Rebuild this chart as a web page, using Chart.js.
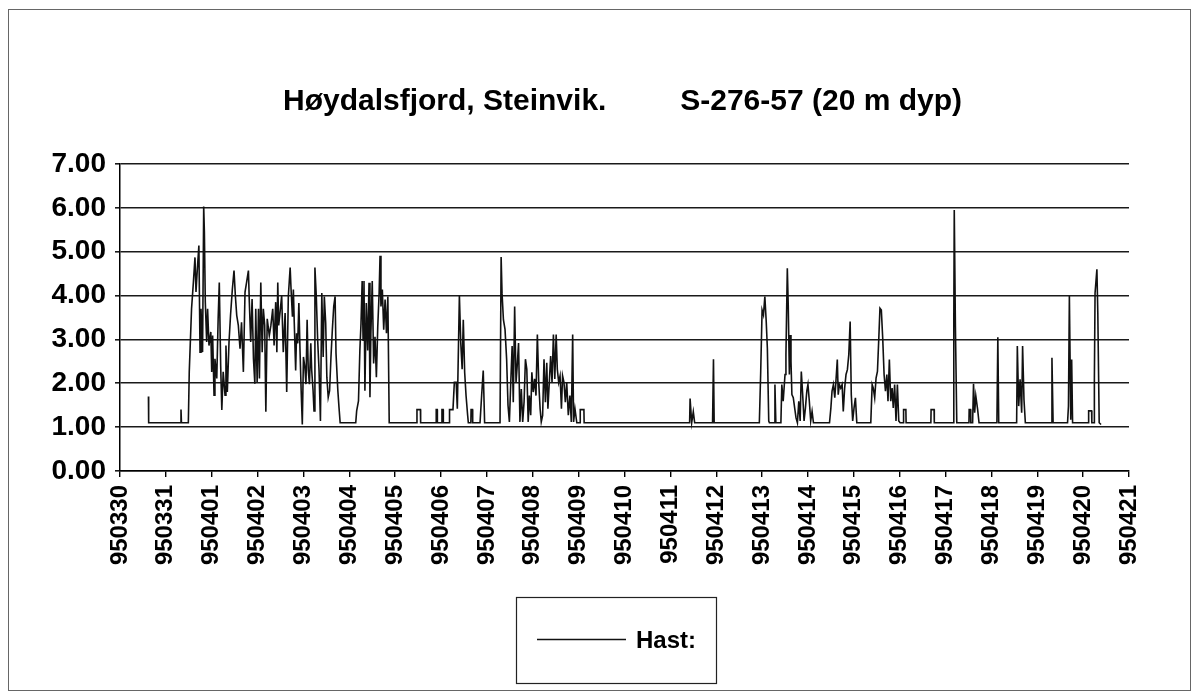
<!DOCTYPE html>
<html>
<head>
<meta charset="utf-8">
<script src="https://cdn.jsdelivr.net/npm/chart.js@4/dist/chart.umd.min.js"></script>
<style>
  html, body { margin: 0; padding: 0; background: #fff; }
  #wrap { position: relative; width: 1197px; height: 699px; }
</style>
</head>
<body>
<div id="wrap"><canvas id="hastChart" width="1197" height="699"></canvas></div>
<script>
// --- Data ---
const titleLeft = 'Høydalsfjord, Steinvik.';
const titleRight = 'S-276-57 (20 m dyp)';
const seriesName = 'Hast:';

const dayLabels = ['950330', '950331', '950401', '950402', '950403', '950404', '950405', '950406',
  '950407', '950408', '950409', '950410', '950411', '950412', '950413', '950414', '950415',
  '950416', '950417', '950418', '950419', '950420', '950421'];

const yTicks = [0, 1, 2, 3, 4, 5, 6, 7];

// time in days after 950330 00:00
const hastDays = [
  0.620, 0.625, 1.320, 1.330, 1.340, 1.490, 1.510, 1.560, 1.600, 1.635, 1.657, 1.686, 1.720, 1.745,
  1.766, 1.800, 1.825, 1.840, 1.860, 1.890, 1.910, 1.940, 1.980, 2.000, 2.020, 2.050, 2.070, 2.110,
  2.140, 2.165, 2.195, 2.220, 2.250, 2.290, 2.310, 2.340, 2.377, 2.410, 2.450, 2.486, 2.515, 2.545,
  2.580, 2.617, 2.650, 2.690, 2.726, 2.760, 2.800, 2.820, 2.850, 2.880, 2.910, 2.940, 2.960, 2.990,
  3.020, 3.040, 3.070, 3.100, 3.125, 3.155, 3.180, 3.210, 3.255, 3.290, 3.330, 3.360, 3.395, 3.420,
  3.440, 3.460, 3.490, 3.525, 3.560, 3.600, 3.635, 3.670, 3.710, 3.730, 3.760, 3.780, 3.800, 3.830,
  3.850, 3.875, 3.900, 3.925, 3.950, 3.975, 4.000, 4.030, 4.055, 4.080, 4.105, 4.130, 4.160, 4.180,
  4.210, 4.230, 4.250, 4.280, 4.310, 4.340, 4.370, 4.400, 4.430, 4.455, 4.485, 4.510, 4.540, 4.570,
  4.600, 4.630, 4.660, 4.690, 4.710, 4.750, 4.775, 4.800, 5.140, 5.160, 5.200, 5.230, 5.255, 5.280,
  5.300, 5.320, 5.340, 5.370, 5.400, 5.430, 5.450, 5.470, 5.500, 5.530, 5.560, 5.590, 5.620, 5.650,
  5.670, 5.690, 5.720, 5.750, 5.780, 5.810, 5.840, 5.870, 6.470, 6.475, 6.550, 6.555, 6.890, 6.895,
  6.915, 6.920, 7.015, 7.020, 7.045, 7.050, 7.180, 7.185, 7.260, 7.290, 7.330, 7.355, 7.400, 7.430,
  7.460, 7.485, 7.515, 7.545, 7.580, 7.595, 7.650, 7.655, 7.685, 7.690, 7.850, 7.885, 7.920, 7.950,
  8.286, 8.310, 8.330, 8.360, 8.395, 8.430, 8.460, 8.490, 8.520, 8.550, 8.575, 8.605, 8.635, 8.665,
  8.690, 8.720, 8.750, 8.780, 8.810, 8.840, 8.870, 8.900, 8.925, 8.955, 8.980, 9.010, 9.040, 9.070,
  9.100, 9.130, 9.160, 9.185, 9.215, 9.245, 9.275, 9.305, 9.330, 9.360, 9.390, 9.420, 9.450, 9.480,
  9.510, 9.535, 9.565, 9.595, 9.625, 9.650, 9.680, 9.710, 9.740, 9.775, 9.810, 9.840, 9.870, 9.890,
  9.920, 9.960, 10.030, 10.035, 10.115, 10.120, 12.420, 12.430, 12.465, 12.500, 12.530, 12.920,
  12.940, 12.955, 13.940, 13.970, 14.000, 14.030, 14.060, 14.090, 14.115, 14.145, 14.160, 14.260,
  14.280, 14.300, 14.410, 14.430, 14.460, 14.500, 14.520, 14.550, 14.570, 14.595, 14.610, 14.630,
  14.650, 14.680, 14.710, 14.740, 14.770, 14.800, 14.830, 14.855, 14.885, 14.915, 14.945, 14.975,
  15.000, 15.030, 15.060, 15.090, 15.120, 15.470, 15.500, 15.525, 15.555, 15.585, 15.610, 15.640,
  15.660, 15.685, 15.715, 15.745, 15.770, 15.800, 15.830, 15.860, 15.890, 15.920, 15.945, 15.975,
  16.005, 16.035, 16.065, 16.370, 16.400, 16.425, 16.455, 16.485, 16.515, 16.545, 16.570, 16.600,
  16.630, 16.660, 16.690, 16.720, 16.745, 16.775, 16.805, 16.835, 16.860, 16.890, 16.920, 16.950,
  16.980, 17.010, 17.080, 17.085, 17.135, 17.140, 17.680, 17.685, 17.750, 17.755, 18.170, 18.180,
  18.190, 18.215, 18.245, 18.510, 18.515, 18.545, 18.550, 18.590, 18.610, 18.635, 18.660, 18.700,
  18.730, 19.120, 19.140, 19.160, 19.550, 19.565, 19.595, 19.625, 19.660, 19.680, 19.710, 19.740,
  20.310, 20.320, 20.345, 20.660, 20.680, 20.700, 20.730, 20.750, 20.770, 21.115, 21.120, 21.185,
  21.190, 21.240, 21.245, 21.260, 21.300, 21.320, 21.350, 21.390
];

const hastValues = [
  1.70, 1.10, 1.10, 1.40, 1.10, 1.10, 2.26, 3.70, 4.30, 4.87, 4.08, 4.60, 5.14, 2.71,
  3.70, 2.71, 6.03, 5.44, 3.85, 2.94, 3.70, 2.86, 3.17, 2.26, 3.09, 1.73, 2.56, 2.11,
  3.47, 4.30, 2.41, 1.39, 2.26, 1.73, 2.86, 1.80, 2.94, 3.55, 4.15, 4.57, 4.00, 3.55,
  3.32, 2.79, 3.39, 2.26, 4.08, 4.30, 4.57, 3.85, 2.94, 3.92, 2.56, 1.99, 3.70, 2.03,
  3.70, 2.11, 4.30, 2.71, 3.70, 3.32, 1.35, 3.47, 3.09, 3.32, 3.70, 2.86, 3.85, 2.71,
  4.30, 3.32, 3.62, 4.00, 2.71, 3.60, 1.80, 3.98, 4.64, 4.14, 3.52, 4.14, 3.37, 2.29,
  3.14, 2.91, 3.83, 2.75, 1.83, 1.06, 2.60, 2.37, 1.98, 3.45, 2.29, 1.98, 2.91, 2.29,
  1.83, 1.37, 4.64, 3.98, 2.98, 2.29, 1.14, 4.06, 2.60, 3.98, 3.37, 2.14, 1.68, 1.83,
  2.60, 3.22, 3.75, 3.98, 2.68, 1.83, 1.45, 1.10, 1.10, 1.37, 1.60, 2.75, 3.37, 4.33,
  2.98, 4.33, 1.83, 3.83, 2.75, 4.29, 1.68, 3.14, 4.33, 2.45, 3.06, 2.14, 3.29, 4.06,
  4.91, 3.75, 4.14, 3.22, 3.91, 3.14, 3.98, 1.10, 1.10, 1.40, 1.40, 1.10, 1.10, 1.40,
  1.40, 1.10, 1.10, 1.40, 1.40, 1.10, 1.10, 1.40, 1.40, 2.02, 2.02, 1.42, 4.00, 2.92,
  2.32, 3.45, 2.25, 1.72, 1.27, 1.10, 1.10, 1.40, 1.40, 1.10, 1.10, 1.72, 2.29, 1.10,
  1.10, 4.88, 4.05, 3.45, 3.23, 2.55, 1.50, 1.12, 2.02, 2.85, 1.57, 3.75, 2.02, 2.47,
  2.92, 1.12, 1.87, 1.12, 1.57, 2.55, 2.32, 1.12, 1.72, 1.27, 2.25, 1.80, 2.10, 1.72,
  3.11, 2.02, 1.42, 1.12, 1.27, 2.55, 1.57, 2.47, 1.42, 2.02, 2.62, 2.02, 3.11, 2.10,
  3.11, 2.32, 2.02, 2.17, 1.42, 2.17, 2.02, 1.57, 2.02, 1.27, 1.72, 1.12, 3.11, 1.12,
  1.42, 1.10, 1.10, 1.40, 1.40, 1.10, 1.10, 1.65, 1.10, 1.35, 1.10, 1.10,
  2.55, 1.10, 1.10, 2.27, 3.67, 3.56, 3.98, 3.41, 2.80, 1.14, 1.10, 1.10,
  1.97, 1.10, 1.10, 1.97, 1.59, 2.20, 2.65, 4.62, 3.79, 2.20, 3.10, 2.50,
  1.74, 1.67, 1.44, 1.21, 1.10, 1.59, 1.14, 2.27, 1.74, 1.14, 1.44, 1.82,
  1.97, 1.59, 1.14, 1.36, 1.10, 1.10, 1.44, 1.82, 1.97, 1.67, 2.05, 2.54,
  1.74, 1.97, 1.89, 1.97, 1.36, 1.89, 2.20, 2.31, 2.65, 3.41, 1.74, 1.14,
  1.44, 1.67, 1.10, 1.10, 1.97, 1.89, 1.67, 2.12, 2.27, 3.03, 3.71, 3.67,
  3.03, 2.20, 1.82, 2.20, 1.59, 2.54, 1.59, 1.89, 1.44, 1.97, 1.14, 1.97,
  1.14, 1.10, 1.10, 1.40, 1.40, 1.10, 1.10, 1.40, 1.40, 1.10, 1.10, 3.38,
  5.95, 3.30, 1.10, 1.10, 1.40, 1.40, 1.10, 1.10, 1.99, 1.33, 1.71, 1.40,
  1.10, 1.10, 3.05, 1.10, 1.10, 2.85, 1.48, 2.09, 1.33, 2.85, 1.63, 1.10,
  1.10, 2.58, 1.10, 1.10, 1.48, 3.99, 1.17, 2.54, 1.10, 1.10, 1.37, 1.37,
  1.10, 1.10, 2.09, 4.06, 4.60, 3.60, 1.10, 1.06
];

const boldFont = 'bold {size}px "Liberation Sans", Arial, Helvetica, sans-serif';
function font(size) { return boldFont.replace('{size}', size); }

// page frame, title and the boxed legend
const decorPlugin = {
  id: 'decor',
  beforeDraw(chart) {
    const c = chart.ctx;
    c.save();
    c.fillStyle = '#fff';
    c.fillRect(0, 0, chart.width, chart.height);
    c.strokeStyle = '#666';
    c.lineWidth = 1;
    c.strokeRect(8.5, 9.5, 1182, 681);
    c.restore();
  },
  afterDraw(chart) {
    const c = chart.ctx;
    c.save();
    c.fillStyle = '#000';
    c.textBaseline = 'alphabetic';
    c.font = font(30);
    c.textAlign = 'left';
    c.fillText(titleLeft, 283, 110);
    c.textAlign = 'right';
    c.fillText(titleRight, 962, 110);

    // legend
    const ds = chart.data.datasets[0];
    c.strokeStyle = '#222';
    c.lineWidth = 1.2;
    c.strokeRect(516.5, 597.5, 200, 86);
    c.strokeStyle = ds.borderColor;
    c.lineWidth = 1.5;
    c.beginPath();
    c.moveTo(537, 639.5);
    c.lineTo(626, 639.5);
    c.stroke();
    c.font = font(24);
    c.textAlign = 'left';
    c.fillText(ds.label, 636, 648);
    c.restore();
  }
};

const points = hastDays.map((d, i) => ({ x: d, y: hastValues[i] }));

new Chart(document.getElementById('hastChart'), {
  type: 'line',
  data: {
    datasets: [{
      label: seriesName,
      data: points,
      borderColor: '#111',
      borderWidth: 1.6,
      pointRadius: 0,
      tension: 0,
      fill: false
    }]
  },
  options: {
    responsive: false,
    animation: false,
    events: [],
    layout: { padding: { left: 0, top: 164, right: 68, bottom: 0 } },
    plugins: {
      legend: { display: false },
      title: { display: false },
      tooltip: { enabled: false }
    },
    scales: {
      x: {
        type: 'linear',
        min: 0,
        max: dayLabels.length - 1,
        afterFit(scale) { scale.height = 699 - 471; },
        afterBuildTicks(scale) { scale.ticks = dayLabels.map((_, i) => ({ value: i })); },
        ticks: {
          autoSkip: false,
          minRotation: 90,
          maxRotation: 90,
          padding: 8,
          color: '#000',
          font: { family: '"Liberation Sans", Arial, sans-serif', weight: 'bold', size: 24 },
          callback: (v) => dayLabels[v]
        },
        grid: { drawOnChartArea: false, drawTicks: true, tickLength: 6, color: '#000', lineWidth: 1.4 },
        border: { color: '#000', width: 1.5 }
      },
      y: {
        min: 0,
        max: 7,
        afterFit(scale) { scale.width = 120; },
        afterBuildTicks(scale) { scale.ticks = yTicks.map(v => ({ value: v })); },
        ticks: {
          padding: 9,
          color: '#000',
          font: { family: '"Liberation Sans", Arial, sans-serif', weight: 'bold', size: 28 },
          callback: (v) => v.toFixed(2)
        },
        grid: { color: '#1a1a1a', lineWidth: 1.6, tickLength: 5 },
        border: { color: '#000', width: 1.5 }
      }
    }
  },
  plugins: [decorPlugin]
});
</script>
</body>
</html>
